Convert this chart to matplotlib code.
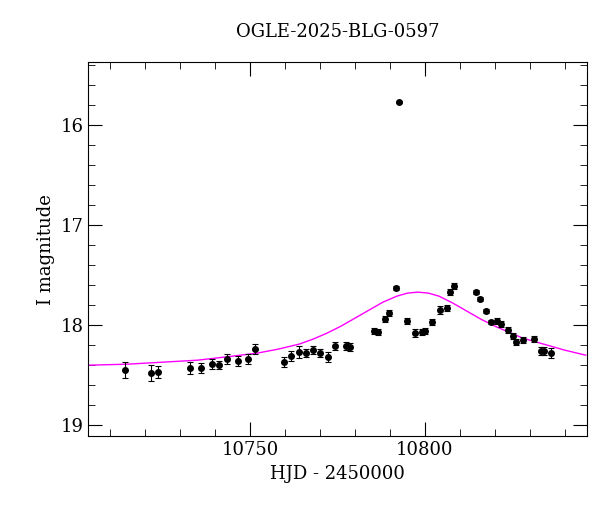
import matplotlib
matplotlib.use('Agg')
import matplotlib.pyplot as plt
from matplotlib.ticker import MultipleLocator

plt.rcParams['font.family'] = 'DejaVu Serif'

# observed photometry
hjd = [10714.3, 10721.6, 10723.6, 10732.9, 10735.9, 10739.1, 10741.1, 10743.3, 10746.4,
       10749.4, 10751.3, 10759.7, 10761.8, 10763.9, 10765.9, 10768.0, 10770.0, 10772.2,
       10774.3, 10777.3, 10778.6, 10785.5, 10786.7, 10788.6, 10789.8, 10791.7, 10792.6,
       10794.9, 10797.1, 10799.1, 10800.1, 10802.0, 10804.2, 10806.2, 10807.3, 10808.4,
       10814.6, 10815.7, 10817.6, 10818.8, 10820.7, 10821.8, 10823.8, 10825.1, 10826.0,
       10828.1, 10831.1, 10833.1, 10834.2, 10836.0]
mag = [18.45, 18.48, 18.47, 18.43, 18.43, 18.39, 18.40, 18.34, 18.36,
       18.34, 18.24, 18.37, 18.31, 18.27, 18.28, 18.25, 18.28, 18.32,
       18.21, 18.21, 18.22, 18.06, 18.07, 17.94, 17.88, 17.63, 15.77,
       17.96, 18.08, 18.07, 18.06, 17.97, 17.85, 17.83, 17.67, 17.61,
       17.67, 17.74, 17.86, 17.97, 17.96, 17.99, 18.05, 18.11, 18.17,
       18.15, 18.14, 18.26, 18.26, 18.28]
err = [0.08, 0.08, 0.06, 0.06, 0.05, 0.05, 0.04, 0.05, 0.05,
       0.05, 0.05, 0.05, 0.05, 0.06, 0.04, 0.04, 0.04, 0.05,
       0.04, 0.04, 0.04, 0.03, 0.03, 0.03, 0.03, 0.02, 0.01,
       0.03, 0.04, 0.03, 0.03, 0.03, 0.04, 0.03, 0.03, 0.03,
       0.02, 0.02, 0.02, 0.02, 0.03, 0.03, 0.03, 0.03, 0.03,
       0.03, 0.03, 0.04, 0.04, 0.05]

# microlensing model curve
model_hjd = [10704, 10715, 10725, 10735, 10745, 10752, 10758, 10764, 10768, 10772, 10776,
             10780, 10784, 10788, 10792, 10795, 10798, 10801, 10804, 10808, 10812, 10816,
             10820, 10824, 10828, 10832, 10836, 10840, 10846]
model_mag = [18.40, 18.39, 18.37, 18.35, 18.31, 18.28, 18.24, 18.19, 18.14, 18.08, 18.01,
             17.93, 17.85, 17.77, 17.71, 17.68, 17.67, 17.68, 17.71, 17.78, 17.86, 17.94,
             18.01, 18.07, 18.13, 18.17, 18.21, 18.25, 18.30]

fig = plt.figure(figsize=(6, 5.12), dpi=100)
ax = fig.add_axes([0.147, 0.148, 0.831, 0.731])

ax.plot(model_hjd, model_mag, color='magenta', lw=1)
ax.errorbar(hjd, mag, yerr=err, fmt='o', color='black', ms=4, capsize=2.5, elinewidth=0.8, capthick=0.8)

ax.set_xlim(10703.7, 10846.3)
ax.set_ylim(19.11, 15.37)
ax.xaxis.set_major_locator(MultipleLocator(50))
ax.xaxis.set_minor_locator(MultipleLocator(10))
ax.yaxis.set_major_locator(MultipleLocator(1))
ax.yaxis.set_minor_locator(MultipleLocator(0.2))
ax.tick_params(which='both', direction='in', top=True, right=True, labelsize=13)
ax.tick_params(which='major', length=10)
ax.tick_params(which='minor', length=5)

ax.set_xlabel('HJD - 2450000', fontsize=13)
ax.set_ylabel('I magnitude', fontsize=13)
ax.set_title('OGLE-2025-BLG-0597', fontsize=13, pad=18)

fig.savefig('out.png')
